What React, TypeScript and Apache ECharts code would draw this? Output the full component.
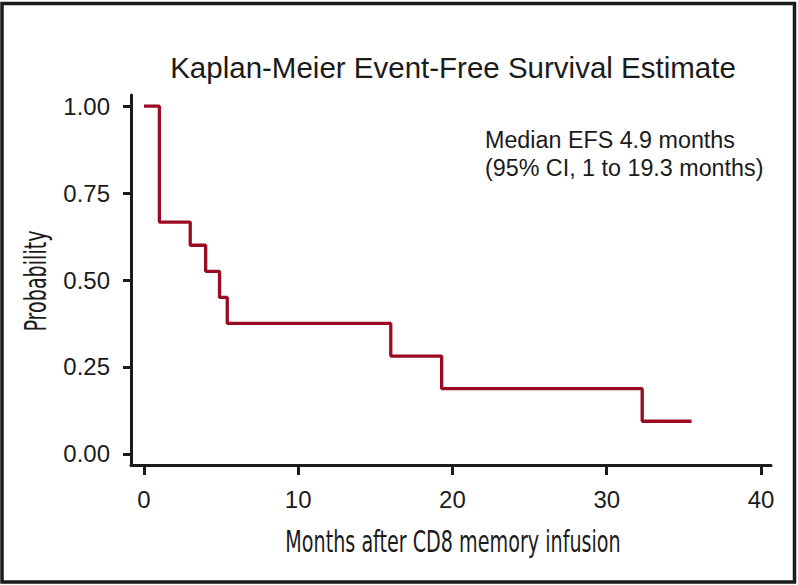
import React, { useEffect, useRef } from "react";
import * as echarts from "echarts";

const times = [0, 1, 3, 4, 4.9, 5.4, 16, 19.3, 32.3, 35.5];
const survival = [1, 0.6667, 0.6, 0.525, 0.45, 0.375, 0.2813, 0.1875, 0.0938, 0.0938];
const xTicks = [0, 10, 20, 30, 40];
const yTicks = [0, 0.25, 0.5, 0.75, 1];
const titleText = "Kaplan-Meier Event-Free Survival Estimate";
const noteLines = ["Median EFS 4.9 months", "(95% CI, 1 to 19.3 months)"];
const xName = "Months after CD8 memory infusion";
const yName = "Probability";

const SANS = "'Liberation Sans', Arial, Helvetica, sans-serif";
const NARROW = "'DejaVu Sans Condensed', 'Liberation Sans Narrow', sans-serif";
const INK = "#1b1b1b";

export default function App() {
  const ref = useRef<HTMLDivElement>(null);
  useEffect(() => {
    if (!ref.current) return;
    const chart = echarts.init(ref.current, null, { renderer: "svg" });
    chart.setOption({
      animation: false,
      backgroundColor: "#ffffff",
      grid: { left: 131, right: 27, top: 95, bottom: 120 },
      xAxis: {
        type: "value",
        min: -0.84,
        max: 40.65,
        axisLine: { show: true, onZero: false, lineStyle: { color: INK, width: 3 } },
        axisTick: { show: true, customValues: xTicks, length: 10, lineStyle: { color: INK, width: 3 } },
        axisLabel: {
          customValues: xTicks,
          margin: 22,
          fontFamily: SANS,
          fontSize: 24,
          color: INK,
        },
        splitLine: { show: false },
      },
      yAxis: {
        type: "value",
        min: -0.032,
        max: 1.032,
        axisLine: { show: true, onZero: false, lineStyle: { color: INK, width: 3 } },
        axisTick: { show: true, customValues: yTicks, length: 8, lineStyle: { color: INK, width: 3 } },
        axisLabel: {
          customValues: yTicks,
          margin: 21,
          fontFamily: SANS,
          fontSize: 24,
          color: INK,
          formatter: (v: number) => v.toFixed(2),
        },
        splitLine: { show: false },
      },
      series: [
        {
          type: "line",
          step: "end",
          symbol: "none",
          data: times.map((t, i) => [t, survival[i]]),
          lineStyle: { color: "#9C0B22", width: 3.3 },
        },
      ],
      graphic: [
        {
          type: "rect",
          shape: { x: 2, y: 3.5, width: 792.5, height: 578.5 },
          style: { fill: "none", stroke: INK, lineWidth: 3.5 },
          silent: true,
        },
        {
          type: "text",
          x: 453,
          y: 67,
          style: {
            text: titleText,
            fontFamily: SANS,
            fontSize: 29.5,
            fill: INK,
            align: "center",
            verticalAlign: "middle",
          },
        },
        {
          type: "text",
          x: 485,
          y: 140,
          style: {
            text: noteLines[0],
            fontFamily: SANS,
            fontSize: 23.3,
            fill: INK,
            align: "left",
            verticalAlign: "middle",
          },
        },
        {
          type: "text",
          x: 485,
          y: 168,
          style: {
            text: noteLines[1],
            fontFamily: SANS,
            fontSize: 23.3,
            fill: INK,
            align: "left",
            verticalAlign: "middle",
          },
        },
        {
          type: "text",
          x: 453,
          y: 542,
          scaleX: 0.71,
          style: {
            text: xName,
            fontFamily: NARROW,
            fontSize: 30,
            fill: INK,
            align: "center",
            verticalAlign: "middle",
          },
        },
        {
          type: "text",
          x: 36,
          y: 281,
          rotation: Math.PI / 2,
          scaleX: 0.71,
          style: {
            text: yName,
            fontFamily: NARROW,
            fontSize: 30,
            fill: INK,
            align: "center",
            verticalAlign: "middle",
          },
        },
      ],
    });
    return () => chart.dispose();
  }, []);
  return (
    <div
      ref={ref}
      style={{ position: "fixed", left: 0, top: 0, width: 798, height: 585, background: "#fff" }}
    />
  );
}
